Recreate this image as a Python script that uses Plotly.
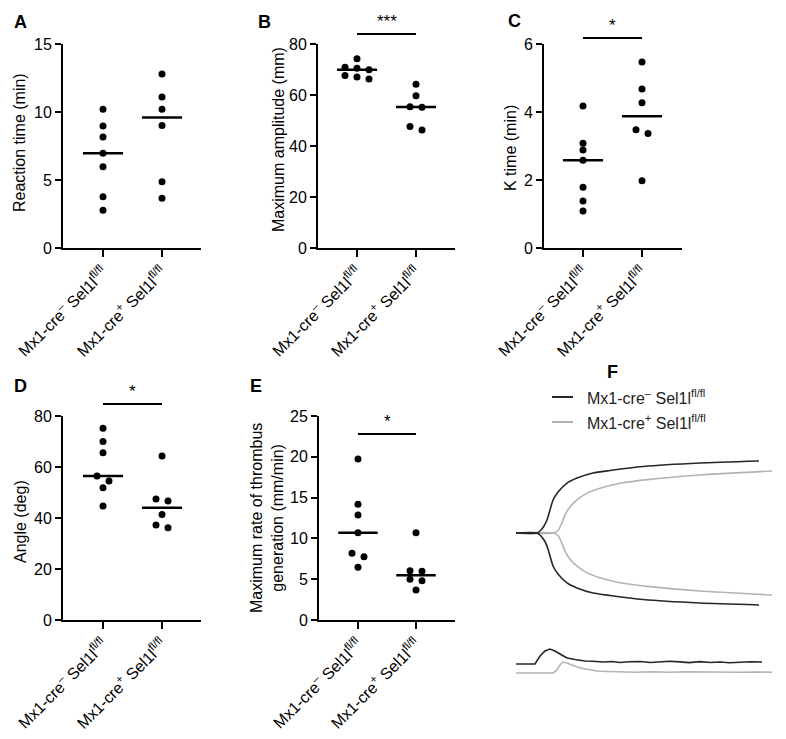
import numpy as np
import plotly.graph_objects as go

W, H = 786, 739
FONT = "Liberation Sans, Arial, sans-serif"
PAGE_OFF = 8  # browser body margin offsets the figure by this many px

# ---------------- data ----------------
groups = ["Mx1-cre<sup>–</sup> Sel1l<sup>fl/fl</sup>", "Mx1-cre<sup>+</sup> Sel1l<sup>fl/fl</sup>"]

reaction_ctrl = [10.2, 8.97, 8.16, 6.96, 5.98, 3.77, 2.77]
reaction_ko = [12.8, 11.1, 10.2, 9.0, 4.88, 3.65]

amplitude_ctrl = [74.2, 70.9, 70.5, 69.9, 67.6, 67.1, 66.3]
amplitude_ko = [64.2, 59.7, 55.2, 55.4, 46.3, 47.6]

ktime_ctrl = [4.18, 3.08, 2.88, 2.58, 1.79, 1.38, 1.09]
ktime_ko = [5.47, 4.68, 4.27, 3.48, 3.37, 1.98]

angle_ctrl = [75.2, 70.0, 65.6, 56.5, 54.5, 51.9, 44.7]
angle_ko = [64.3, 47.5, 46.7, 41.4, 37.3, 36.2]

rate_ctrl = [19.73, 14.2, 12.87, 10.7, 8.17, 7.76, 6.45]
rate_ko = [10.7, 6.04, 5.96, 5.0, 4.82, 3.68]

# TEG tracing (time in min, amplitude in mm)
teg_t_ctrl = [0, 4.92, 5.85, 6.56, 7.26, 7.96, 8.67, 9.84, 11.94, 14.29, 18.03, 22.01, 29.74, 43.09, 56.91]
teg_amp_ctrl = [0, 0, 2.9, 6.8, 12.6, 22.3, 32.0, 39.8, 48.5, 53.4, 58.3, 60.7, 64.6, 68.0, 69.9]
teg_t_ko = [0, 8.74, 9.91, 10.7, 11.48, 12.65, 14.22, 16.56, 19.67, 24.36, 31.38, 43.09, 59.95]
teg_amp_ko = [0, 0, 2.9, 9.4, 17.5, 25.5, 32.0, 38.5, 43.4, 48.3, 52.1, 56.3, 60.2]

# velocity (rate) curves
vel_t_ctrl = [0, 4.45, 5.62, 6.79, 7.96, 9.13, 10.3, 11.94, 13.82, 16.16, 18.0, 20.37, 22.5, 24.36, 26.5,
              29.04, 31.5, 33.72, 36.0, 38.41, 40.5, 43.09, 45.5, 47.78, 50.0, 52.46, 55.0, 57.61]
vel_ctrl = [0, 0, 5.3, 8.7, 10.0, 8.7, 6.7, 4.0, 3.0, 2.0, 1.8, 1.3, 1.7, 1.0, 1.5,
            1.7, 1.0, 1.2, 1.8, 1.4, 0.9, 1.6, 1.0, 1.3, 0.8, 1.2, 1.5, 1.3]
vel_t_ko = [0, 8.67, 9.6, 10.3, 11.0, 11.94, 13.1, 14.3, 16.2, 19.0, 21.5, 24.4, 28.0, 32.0, 36.0,
            40.0, 44.0, 48.0, 52.0, 56.0, 60.0]
vel_ko = [0, 0, 2.0, 5.3, 7.3, 6.7, 5.3, 4.0, 2.7, 1.3, 1.0, 0.7, 0.5, 0.8, 0.5,
          0.8, 0.6, 0.9, 0.5, 0.7, 0.5]

# ---------------- helpers ----------------
def xd(px):
    return (px - PAGE_OFF) / W

def yd(py):
    return 1 - (py - PAGE_OFF) / H

fig = go.Figure()

panels = [
    dict(ctrl=reaction_ctrl, ko=reaction_ko, ymax=15, dtick=5, xdom=(63, 201), ydom=(44, 248),
         cats=(103, 162), title="Reaction time (min)", tx=19, ty=143),
    dict(ctrl=amplitude_ctrl, ko=amplitude_ko, ymax=80, dtick=20, xdom=(318, 455), ydom=(44, 248),
         cats=(357, 416), title="Maximum amplitude (mm)", tx=278, ty=140),
    dict(ctrl=ktime_ctrl, ko=ktime_ko, ymax=6, dtick=2, xdom=(544, 682), ydom=(44, 248),
         cats=(583, 642), title="K time (min)", tx=510, ty=148),
    dict(ctrl=angle_ctrl, ko=angle_ko, ymax=80, dtick=20, xdom=(63, 201), ydom=(416, 620),
         cats=(103, 162), title="Angle (deg)", tx=20, ty=522),
    dict(ctrl=rate_ctrl, ko=rate_ko, ymax=25, dtick=5, xdom=(319, 455), ydom=(416, 620),
         cats=(358, 416), title="Maximum rate of thrombus<br>generation (mm/min)", tx=267, ty=518),
]


def swarm(vals, ppu, step_px=12.0, thresh=6.5):
    order = sorted(range(len(vals)), key=lambda i: -vals[i])
    rows = []
    for i in order:
        if rows and (vals[rows[-1][0]] - vals[i]) * ppu < thresh:
            rows[-1].append(i)
        else:
            rows.append([i])
    off = [0.0] * len(vals)
    for r in rows:
        n = len(r)
        for j, i in enumerate(r):
            off[i] = (j - (n - 1) / 2) * step_px
    return off


annotations = []
shapes = []
layout_axes = {}

for n, p in enumerate(panels, start=1):
    xa = "x" if n == 1 else f"x{n}"
    ya = "y" if n == 1 else f"y{n}"
    x0, x1 = p["xdom"]
    top, bot = p["ydom"]
    c0, c1 = p["cats"]
    k = c1 - c0
    a = -(c0 - x0) / k
    b = a + (x1 - x0) / k
    ppu = (bot - top) / p["ymax"]
    for gi, vals in enumerate([p["ctrl"], p["ko"]]):
        off = swarm(vals, ppu)
        fig.add_trace(go.Scatter(
            x=[gi + o / k for o in off], y=vals, mode="markers",
            marker=dict(color="black", size=7, line=dict(width=0)),
            xaxis=xa, yaxis=ya, showlegend=False, hoverinfo="skip", cliponaxis=False))
        med = float(np.median(vals))
        fig.add_trace(go.Scatter(
            x=[gi - 0.34, gi + 0.34], y=[med, med], mode="lines",
            line=dict(color="black", width=2.5),
            xaxis=xa, yaxis=ya, showlegend=False, hoverinfo="skip"))
    xkey = "xaxis" if n == 1 else f"xaxis{n}"
    ykey = "yaxis" if n == 1 else f"yaxis{n}"
    layout_axes[xkey] = dict(
        domain=[xd(x0), xd(x1)], range=[a, b], anchor=ya, automargin=False,
        showline=True, linecolor="black", linewidth=2, mirror=False,
        ticks="outside", ticklen=7, tickwidth=2, tickcolor="black",
        tickmode="array", tickvals=[0, 1], ticktext=groups, tickangle=-45,
        tickfont=dict(family=FONT, size=16, color="black"),
        showgrid=False, zeroline=False, fixedrange=True)
    layout_axes[ykey] = dict(
        domain=[yd(bot), yd(top)], range=[0, p["ymax"]], anchor=xa, automargin=False,
        showline=True, linecolor="black", linewidth=2,
        ticks="outside", ticklen=6, tickwidth=2, tickcolor="black",
        tickmode="linear", tick0=0, dtick=p["dtick"],
        tickfont=dict(family=FONT, size=16, color="black"),
        showgrid=False, zeroline=False, fixedrange=True)
    annotations.append(dict(
        text=p["title"], x=xd(p["tx"]), y=yd(p["ty"]), xref="paper", yref="paper",
        xanchor="center", yanchor="middle", textangle=-90, showarrow=False,
        font=dict(family=FONT, size=16, color="black")))

# significance bars: (panel index, bar y px, label)
sig = [(2, 34, "***"), (3, 38, "*"), (4, 404, "*"), (5, 434, "*")]
for n, bar_py, lab in sig:
    xa = "x" if n == 1 else f"x{n}"
    shapes.append(dict(type="line", xref=xa, yref="paper", x0=0, x1=1,
                       y0=yd(bar_py), y1=yd(bar_py), line=dict(color="black", width=2)))
    annotations.append(dict(text=lab, x=0.5, y=yd(bar_py - 1), xref=xa, yref="paper",
                            xanchor="center", yanchor="bottom", showarrow=False,
                            font=dict(family=FONT, size=17, color="black")))

# panel letters
for lab, px, py in [("A", 21, 22), ("B", 264, 22), ("C", 514, 21),
                    ("D", 21, 386), ("E", 256, 386), ("F", 612, 372)]:
    annotations.append(dict(text=f"<b>{lab}</b>", x=xd(px), y=yd(py), xref="paper", yref="paper",
                            xanchor="center", yanchor="middle", showarrow=False,
                            font=dict(family=FONT, size=18, color="black")))

# ---------------- panel F ----------------
DARK = "#262626"
LIGHT = "#b3b3b3"
t_scale = 4.27  # px per min
fx0, fx1 = 510, 780
f_range = [-(516 - fx0) / t_scale, (fx1 - 516) / t_scale]

amp_scale = 2.06  # px per mm (half amplitude)
ftop, fbot = 450, 616
half = (fbot - ftop) / 2 / amp_scale

for t, amp, col in [(teg_t_ko, teg_amp_ko, LIGHT), (teg_t_ctrl, teg_amp_ctrl, DARK)]:
    hx = list(t) + [None] + list(t)
    hy = [v / 2 for v in amp] + [None] + [-v / 2 for v in amp]
    fig.add_trace(go.Scatter(x=hx, y=hy, mode="lines",
                             line=dict(color=col, width=1.6, shape="spline", smoothing=0.6),
                             xaxis="x6", yaxis="y6", showlegend=False, hoverinfo="skip", connectgaps=False))

vel_scale = 1.5  # px per unit
vtop, vbot = 636, 684
light_base = 673
dark_base = 664
v_lo = -(vbot - light_base) / vel_scale
v_hi = v_lo + (vbot - vtop) / vel_scale
dark_offset = (light_base - dark_base) / vel_scale

fig.add_trace(go.Scatter(x=vel_t_ko, y=vel_ko, mode="lines", line=dict(color=LIGHT, width=1.6),
                         xaxis="x7", yaxis="y7", showlegend=False, hoverinfo="skip"))
fig.add_trace(go.Scatter(x=vel_t_ctrl, y=[v + dark_offset for v in vel_ctrl], mode="lines",
                         line=dict(color=DARK, width=1.6),
                         xaxis="x7", yaxis="y7", showlegend=False, hoverinfo="skip"))

hidden = dict(visible=False, showgrid=False, zeroline=False, fixedrange=True, automargin=False)
layout_axes["xaxis6"] = dict(domain=[xd(fx0), xd(fx1)], range=f_range, anchor="y6", **hidden)
layout_axes["yaxis6"] = dict(domain=[yd(fbot), yd(ftop)], range=[-half, half], anchor="x6", **hidden)
layout_axes["xaxis7"] = dict(domain=[xd(fx0), xd(fx1)], range=f_range, anchor="y7", **hidden)
layout_axes["yaxis7"] = dict(domain=[yd(vbot), yd(vtop)], range=[v_lo, v_hi], anchor="x7", **hidden)

# manual legend for F
for name, col, py in [(groups[0], DARK, 397), (groups[1], LIGHT, 422)]:
    shapes.append(dict(type="line", xref="paper", yref="paper", x0=xd(552), x1=xd(573),
                       y0=yd(py), y1=yd(py), line=dict(color=col, width=2)))
    annotations.append(dict(text=name, x=xd(585), y=yd(py), xref="paper", yref="paper",
                            xanchor="left", yanchor="middle", showarrow=False,
                            font=dict(family=FONT, size=16, color="#222222")))

fig.update_layout(
    template="none",
    width=W, height=H, autosize=False, margin=dict(l=0, r=0, t=0, b=0, pad=0),
    paper_bgcolor="white", plot_bgcolor="white",
    showlegend=False, annotations=annotations, shapes=shapes,
    font=dict(family=FONT, color="black"),
    **layout_axes)

fig.write_html("out.html")
